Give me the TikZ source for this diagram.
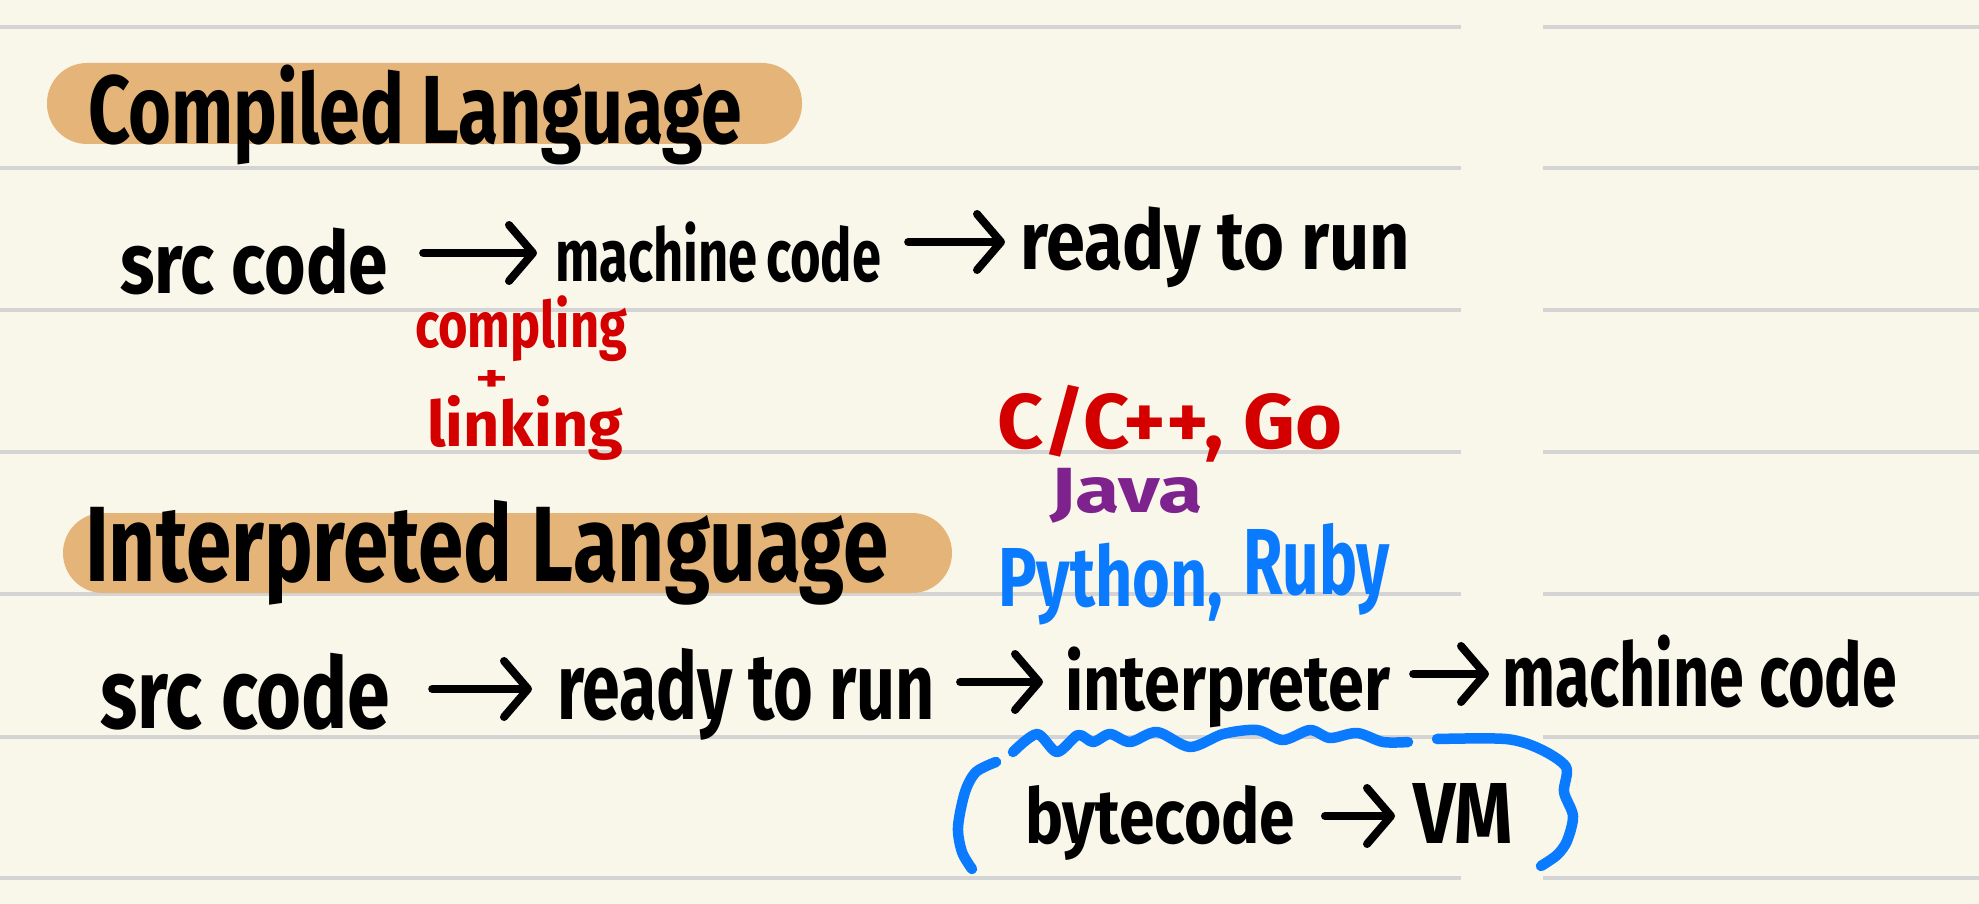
\documentclass[tikz,border=0pt]{standalone}
\usepackage{fontspec}
\setmainfont{Fira Sans}
\usetikzlibrary{arrows.meta}
\definecolor{paper}{HTML}{F9F6EA}
\definecolor{rulec}{HTML}{D4D4D4}
\definecolor{pillc}{HTML}{E4B478}
\definecolor{redc}{HTML}{D40000}
\definecolor{purpc}{HTML}{7E228E}
\definecolor{bluec}{HTML}{0A7BFF}
\newcommand{\fitbox}[3]{\resizebox*{#1pt}{#2pt}{#3}}
\begin{document}
\begin{tikzpicture}[x=1pt,y=-1pt,
  hw/.style={inner sep=0pt, outer sep=0pt, anchor=south west, font=\bfseries},
  arr/.style={line width=8pt, line cap=round, line join=round, -{Straight Barb[length=24pt,width=56pt,round]}},
  rulel/.style={rulec, line width=4pt},
  pill/.style={fill=pillc, rounded corners=40pt},
  pen/.style={bluec, line width=10.5pt, line cap=round, line join=round}]
\useasboundingbox (0,0) rectangle (1979,904);
\fill[paper] (0,0) rectangle (1979,904);
\foreach \yy in {27,168,310,452,594,737,878}{
  \draw[rulel] (0,\yy) -- (1461,\yy);
  \draw[rulel] (1543,\yy) -- (1979,\yy);
}
% highlight pills
\fill[pill] (47,63) rectangle (802,144);
\fill[pill] (63,513) rectangle (952,593);
% titles
\node[hw] (title1) at (88,165) {\fitbox{654}{100}{Compiled Language}};
\node[hw] (title2) at (85,605) {\fitbox{803}{105}{Interpreted Language}};
% compiled line
\node[hw] (src1) at (120,295) {\fitbox{268}{67}{src code}};
\node[hw] (mc1) at (555,283) {\fitbox{326}{61}{machine\,code}};
\node[hw] (rdy1) at (1020,288) {\fitbox{390}{81}{ready to run}};
\draw[arr, shorten <=35pt, shorten >=18pt] (src1.east |- 0,253) -- (mc1.west |- 0,253);
\draw[arr, shorten <=27pt, shorten >=15pt] (mc1.east |- 0,242) -- (rdy1.west |- 0,242);
% red notes
\node[hw, text=redc] (cmp) at (415,362) {\fitbox{212}{66}{compling}};
\node[hw, text=redc] (plus) at (475,391) {\fitbox{33}{21}{+}};
\node[hw, text=redc] (lnk) at (427,460) {\fitbox{196}{65}{linking}};
% languages
\node[hw, text=redc] (cgo) at (997,462) {\fitbox{345}{77}{C/C++, Go}};
\node[hw, text=purpc] (java) at (1050,523) {\fitbox{153}{55}{Java}};
\node[hw, text=bluec] (py) at (998,625) {\fitbox{225}{82}{Python,}};
\node[hw, text=bluec] (ruby) at (1243,615) {\fitbox{147}{92}{Ruby}};
% interpreted line
\node[hw] (src2) at (100,730) {\fitbox{290}{77}{src code}};
\node[hw] (rdy2) at (557,740) {\fitbox{378}{92}{ready to run}};
\node[hw] (intp) at (1065,728) {\fitbox{325}{81}{interpreter}};
\node[hw] (mc2) at (1502,708) {\fitbox{395}{73}{machine code}};
\draw[arr, shorten <=42pt, shorten >=25pt] (src2.east |- 0,689) -- (rdy2.west |- 0,689);
\draw[arr, shorten <=25pt, shorten >=22pt] (rdy2.east |- 0,682) -- (intp.west |- 0,682);
\draw[arr, shorten <=23pt, shorten >=13pt] (intp.east |- 0,674) -- (mc2.west |- 0,674);
% bytecode line
\node[hw] (bc) at (1025,860) {\fitbox{270}{75}{bytecode}};
\node[hw] (vm) at (1413,843) {\fitbox{100}{60}{VM}};
\draw[arr, shorten <=30pt, shorten >=18pt] (bc.east |- 0,816) -- (vm.west |- 0,816);
% blue wavy underline and bracket
\draw[pen] plot[smooth, tension=0.5] coordinates {(1013,752) (1037,734) (1057,752) (1078,735) (1093,742) (1110,734) (1130,742) (1157,732) (1190,747) (1223,734) (1257,730) (1283,740) (1310,730) (1330,738) (1357,733) (1383,742) (1408,742)};
\draw[pen] plot[smooth] coordinates {(996,762) (976,772) (965,792) (958,827) (962,852) (972,869)};
\draw[pen] plot[smooth, tension=0.5] coordinates {(1437,739) (1506,739) (1540,749) (1566,767) (1564,792) (1573,816) (1567,841) (1557,855) (1541,866)};
\end{tikzpicture}
\end{document}
